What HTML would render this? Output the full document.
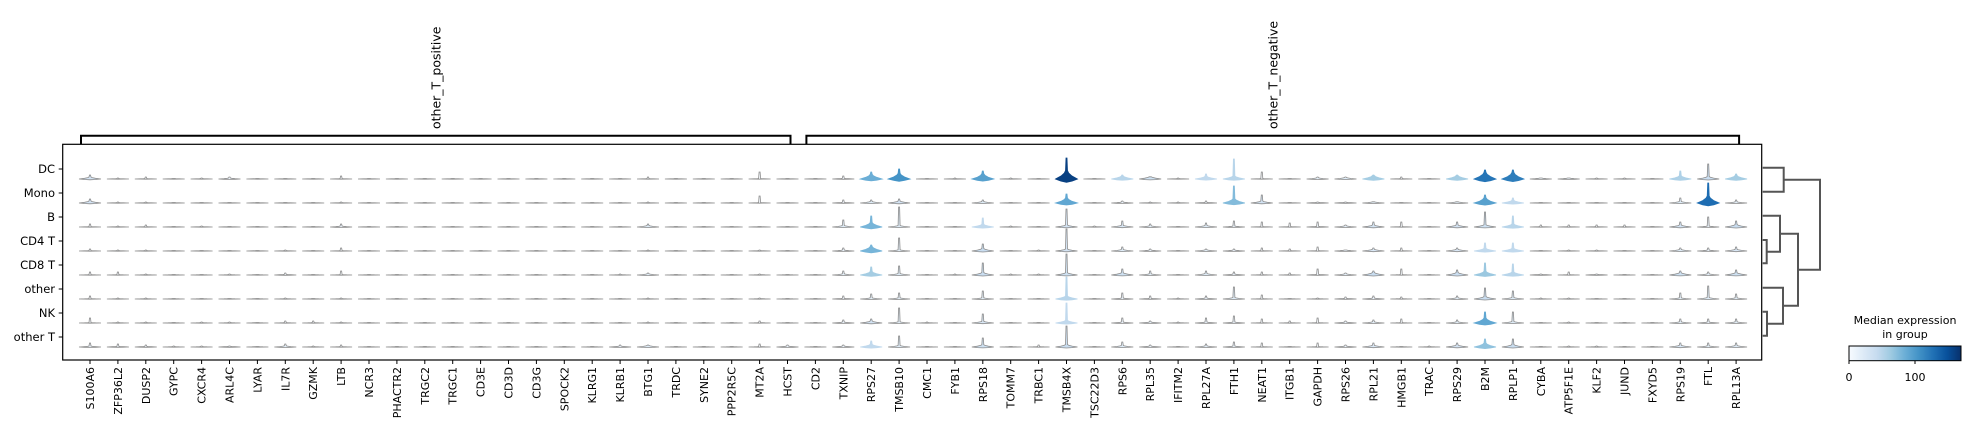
<!DOCTYPE html>
<html><head><meta charset="utf-8"><style>
html,body{margin:0;padding:0;background:#fff;}
svg{display:block;}
text{font-family:"DejaVu Sans","Liberation Sans",sans-serif;fill:#000;}
</style></head><body>
<svg id="chart" width="1970" height="434" viewBox="0 0 1970 434" xmlns="http://www.w3.org/2000/svg">
<defs>
<linearGradient id="blues" x1="0" x2="1" y1="0" y2="0">
<stop offset="0" stop-color="#f7fbff"/><stop offset="0.125" stop-color="#deebf7"/><stop offset="0.25" stop-color="#c6dbef"/><stop offset="0.375" stop-color="#9ecae1"/><stop offset="0.5" stop-color="#6baed6"/><stop offset="0.625" stop-color="#4292c6"/><stop offset="0.75" stop-color="#2171b5"/><stop offset="0.875" stop-color="#08519c"/><stop offset="1" stop-color="#08306b"/>
</linearGradient>
</defs>
<rect x="62.7" y="144.3" width="1699" height="215.7" fill="none" stroke="#000" stroke-width="1.2"/>
<g id="marks"></g>
<g id="axes"></g>
<g id="dendro" stroke="#555" stroke-width="2" fill="none">
<path d="M1762.7 167.7 H1783.7 V191.7 H1762.7"/>
<path d="M1762.7 240 H1766.7 V263.3 H1762.7"/>
<path d="M1762.7 215.7 H1780 V251.7 H1766.7"/>
<path d="M1762.7 311.7 H1767 V335.7 H1762.7"/>
<path d="M1762.7 287.7 H1783 V323.7 H1767"/>
<path d="M1780 233.7 H1798 V305.7 H1783"/>
<path d="M1783.7 179.7 H1820 V269.7 H1798"/>
</g>
<g>
<text x="1905" y="324" font-size="11" text-anchor="middle">Median expression</text>
<text x="1905" y="338" font-size="11" text-anchor="middle">in group</text>
<rect x="1849" y="346" width="112" height="14.7" fill="url(#blues)" stroke="#000" stroke-width="1"/>
<line x1="1849" y1="360.7" x2="1849" y2="364" stroke="#000"/>
<line x1="1915" y1="360.7" x2="1915" y2="364" stroke="#000"/>
<text x="1849" y="381" font-size="11" text-anchor="middle">0</text>
<text x="1915" y="381" font-size="11" text-anchor="middle">100</text>
</g>
</svg>
<script>
const genes = ["S100A6","ZFP36L2","DUSP2","GYPC","CXCR4","ARL4C","LYAR","IL7R","GZMK","LTB","NCR3","PHACTR2","TRGC2","TRGC1","CD3E","CD3D","CD3G","SPOCK2","KLRG1","KLRB1","BTG1","TRDC","SYNE2","PPP2R5C","MT2A","HCST",
"CD2","TXNIP","RPS27","TMSB10","CMC1","FYB1","RPS18","TOMM7","TRBC1","TMSB4X","TSC22D3","RPS6","RPL35","IFITM2","RPL27A","FTH1","NEAT1","ITGB1","GAPDH","RPS26","RPL21","HMGB1","TRAC","RPS29","B2M","RPLP1","CYBA","ATP5F1E","KLF2","JUND","FXYD5","RPS19","FTL","RPL13A"];
const groups = ["DC","Mono","B","CD4 T","CD8 T","other","NK","other T"];
const groupLabels = ["other_T_positive","other_T_negative"];
const groupStart = [0,26];
const groupEnd = [25,59];
const cbTicks = [0,100];
const medDC   = [30,0,0,0,0,10,0,0,0,0,0,0,0,0,0,0,0,0,0,0,0,0,0,0,0,0, 0,5,85,105,0,0,95,0,0,160,0,50,35,0,45,50,0,0,15,20,60,0,0,60,125,120,10,10,0,0,0,55,40,60];
const medMono = [30,0,0,0,0,0,0,0,0,0,0,0,0,0,0,0,0,0,0,0,0,0,0,0,0,0, 0,5,20,30,0,0,20,0,0,90,0,10,0,0,5,75,30,0,5,5,15,0,0,15,95,45,0,0,0,0,0,20,130,15];
const medB    = [0,0,0,0,0,0,0,0,0,10,0,0,0,0,0,0,0,0,0,0,20,0,0,0,0,0, 0,20,80,20,0,0,45,0,0,30,0,25,15,0,20,10,0,0,5,15,30,0,0,30,35,50,0,0,0,0,0,30,10,40];
const medCD4  = [0,0,0,0,0,0,0,0,0,0,0,0,0,0,0,0,0,0,0,0,0,0,0,0,0,0, 0,10,80,15,0,0,40,0,0,30,0,20,10,0,15,10,0,0,0,10,25,0,0,25,45,45,0,0,0,0,0,20,10,25];
const medCD8  = [0,0,0,0,0,0,0,5,0,0,0,0,0,0,0,0,0,0,0,0,15,0,0,0,0,0, 0,15,60,20,0,0,40,0,0,35,0,35,15,0,20,10,0,0,5,15,40,0,0,40,65,50,5,0,5,0,0,35,15,35];
const medOther= [0,0,0,0,0,0,0,0,0,0,0,0,0,0,0,0,0,0,0,0,0,0,0,0,0,0, 0,5,15,15,0,0,15,0,0,50,0,10,5,0,10,20,0,0,0,5,10,0,0,15,40,20,0,0,0,0,0,15,20,15];
const medNK   = [0,0,0,0,0,0,0,0,0,0,0,0,0,0,0,0,0,0,0,0,0,0,0,0,0,0, 0,10,30,15,0,0,25,0,0,45,0,10,10,0,10,10,0,0,0,10,15,0,0,15,90,20,0,0,0,0,0,15,10,15];
const medOT   = [10,5,5,0,0,5,0,15,0,0,0,0,0,0,0,0,0,0,0,10,20,0,0,0,0,10, 0,10,45,20,0,0,35,0,0,40,0,20,10,0,15,10,0,0,0,10,25,0,0,30,70,40,0,0,0,0,0,25,15,20];
const spDC   = [4,1,2,0,1,2,0,0,0,3,0,0,0,0,0,0,0,0,0,0,2,0,0,0,7,0, 0,3,7,10,0,1,8,1,0,21,0,4,2,1,5,20,7,0,2,2,4,2,0,4,9,9,1,1,1,1,0,8,15,5];
const spMono = [4,1,1,0,0,0,0,0,0,1,0,0,0,0,0,0,0,0,0,0,1,0,0,0,7,0, 0,3,3,4,0,0,3,0,0,9,0,2,1,1,2,17,8,0,1,1,1,0,0,1,8,5,0,0,0,0,0,5,20,3];
const spB    = [3,1,2,0,1,0,0,0,0,3,0,0,0,0,0,0,0,0,0,0,3,0,0,0,0,0, 0,7,11,20,0,0,9,1,0,18,1,6,3,0,4,6,5,4,5,2,5,5,0,5,15,11,2,2,2,2,0,5,10,6];
const spCD4  = [2,1,1,0,0,0,0,1,0,3,0,0,0,0,0,0,0,0,0,0,1,0,0,0,1,0, 0,3,6,13,0,0,7,0,1,22,0,4,2,0,2,2,3,2,4,1,3,3,0,3,8,8,0,1,1,0,0,3,3,4];
const spCD8  = [3,3,1,0,0,1,0,2,0,4,0,0,0,0,0,0,0,0,0,1,2,0,0,0,1,0, 0,4,8,9,0,1,12,1,1,21,0,6,4,0,4,3,3,2,6,2,4,6,0,5,12,11,1,3,1,0,0,4,3,5];
const spOther= [3,1,1,0,0,0,0,1,0,1,0,0,0,0,0,0,0,0,0,0,1,0,0,0,1,0, 0,3,5,6,0,0,8,0,0,22,0,6,3,1,3,12,4,0,1,2,3,2,0,3,11,8,1,1,0,0,0,6,13,5];
const spNK   = [5,1,1,0,1,1,0,2,2,1,0,0,0,0,0,0,0,0,0,0,1,0,0,0,2,0, 0,3,4,15,1,0,9,0,0,20,0,5,2,1,5,7,4,2,5,2,3,4,0,3,11,11,0,1,0,0,0,4,4,4];
const spOT   = [4,3,2,1,1,1,0,3,1,2,0,0,0,0,0,0,0,0,0,2,2,0,0,0,3,2, 0,2,6,11,0,0,9,0,2,21,0,5,2,0,3,5,4,0,4,2,4,0,1,4,8,8,0,1,1,0,0,4,4,4];
const medians = [medDC,medMono,medB,medCD4,medCD8,medOther,medNK,medOT];
const spikes = [spDC,spMono,spB,spCD4,spCD8,spOther,spNK,spOT];

const NS = "http://www.w3.org/2000/svg";
const vmax = 170;
function xScale(i){ return 90 + i*27.9; }
function yTick(g){ return 169 + g*24; }
function yBase(g){ return yTick(g) + 10; }
const stops = [[247,251,255],[222,235,247],[198,219,239],[158,202,225],[107,174,214],[66,146,198],[33,113,181],[8,81,156],[8,48,107]];
function blues(v){
  let t = Math.max(0, Math.min(1, v/vmax))*8;
  let i = Math.min(7, Math.floor(t)); let f = t - i;
  const a = stops[i], b = stops[i+1];
  return "rgb(" + [0,1,2].map(k => Math.round(a[k]+(b[k]-a[k])*f)).join(",") + ")";
}
function el(tag, attrs, parent){
  const e = document.createElementNS(NS, tag);
  for (const k in attrs) e.setAttribute(k, attrs[k]);
  parent.appendChild(e); return e;
}
const marks = document.getElementById("marks");
const axes = document.getElementById("axes");
const svg = document.getElementById("chart");

for (let g = 0; g < groups.length; g++){
  for (let i = 0; i < genes.length; i++){
    const m = medians[g][i], s = spikes[g][i];
    const x = xScale(i), y0 = yBase(g), w = 11;
    const b = 0.5 + m/20;
    const h = Math.max(s, b);
    const pts = [
      [x-w,y0],[x-w*0.5,y0-b*0.35],[x-w*0.2,y0-b*0.7],[x-1,y0-b],[x-0.5,y0-h],[x+0.5,y0-h],
      [x+1,y0-b],[x+w*0.2,y0-b*0.7],[x+w*0.5,y0-b*0.35],[x+w,y0],
      [x+w*0.5,y0+b*0.25],[x,y0+b*0.4],[x-w*0.5,y0+b*0.25]
    ];
    const p = document.createElementNS(NS, "polygon");
    p.setAttribute("points", pts.map(q => q[0].toFixed(1)+","+q[1].toFixed(1)).join(" "));
    p.setAttribute("fill", blues(m));
    p.setAttribute("stroke", m > 40 ? blues(m) : "#8c8c8c");
    p.setAttribute("stroke-width", "0.8");
    
    
    marks.appendChild(p);
  }
}
groups.forEach((gname, g) => {
  el("line", {x1:58.7, x2:62.7, y1:yTick(g), y2:yTick(g), stroke:"#000", "stroke-width":1}, axes);
  const t = el("text", {x:55, y:yTick(g)+4, "font-size":11.5, "text-anchor":"end"}, axes);
  t.textContent = gname;
  
  
});
genes.forEach((gene, i) => {
  const x = xScale(i);
  el("line", {x1:x, x2:x, y1:360, y2:364, stroke:"#000", "stroke-width":1}, axes);
  const t = el("text", {x:x, y:367, "font-size":11, "text-anchor":"end", transform:"rotate(-90 "+x+" 367)", dy:"4"}, axes);
  t.textContent = gene;
  
  
});
groupLabels.forEach((lab, k) => {
  const x1 = xScale(groupStart[k]) - 9, x2 = xScale(groupEnd[k]) + 3;
  const br = el("path", {d:"M"+x1+" 144 V135.7 H"+x2+" V144", fill:"none", stroke:"#000", "stroke-width":2}, svg);
  
  
  const mx = (x1+x2)/2;
  const t = el("text", {x:mx, y:129, "font-size":12.5, "text-anchor":"start", transform:"rotate(-90 "+mx+" 129)", dy:"4.5"}, svg);
  t.textContent = lab;
  
  
});
</script>
</body></html>
